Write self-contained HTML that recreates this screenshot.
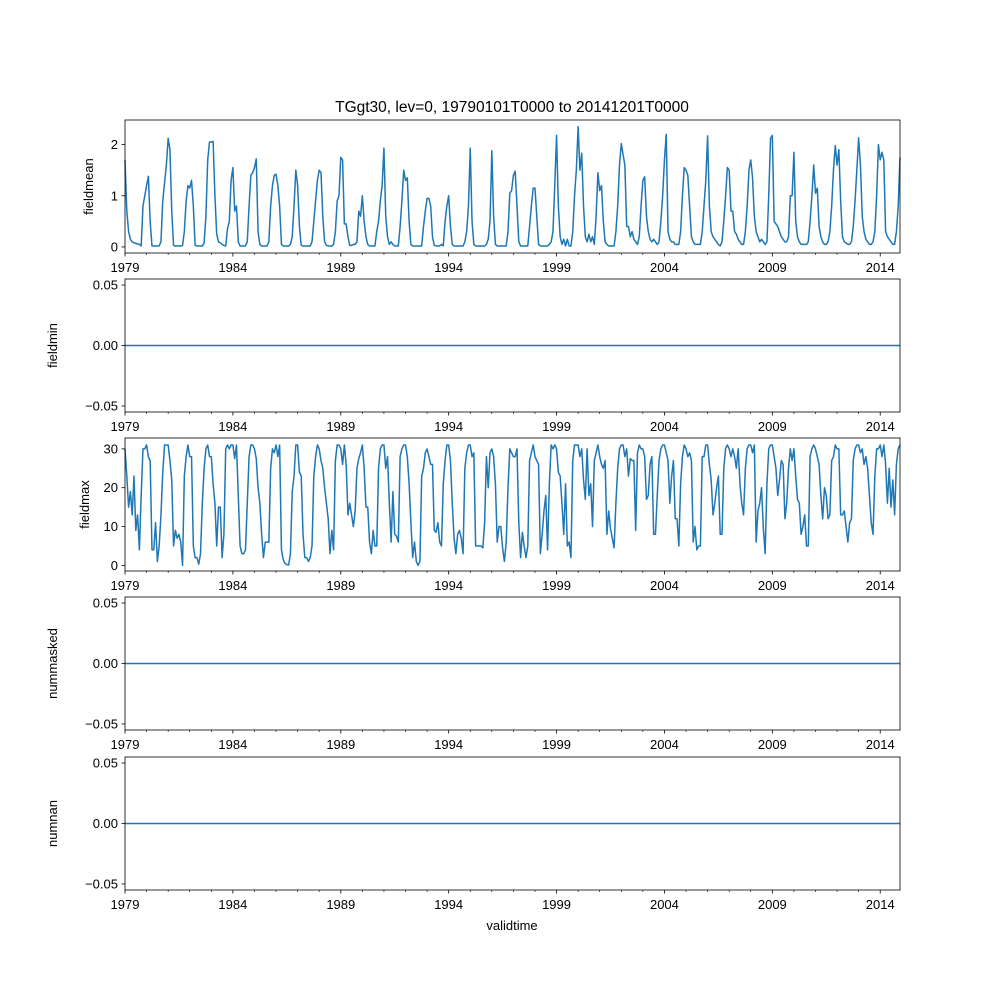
<!DOCTYPE html>
<html><head><meta charset="utf-8"><style>
body{margin:0;background:#fff;}
svg text{font-family:"Liberation Sans","DejaVu Sans",sans-serif;font-size:13px;fill:#000;}
</style></head><body>
<svg id="chart" width="1000" height="1000" xmlns="http://www.w3.org/2000/svg">
<rect width="1000" height="1000" fill="#fff"/>
<text x="512" y="112" text-anchor="middle" style="font-size:15.5px">TGgt30, lev=0, 19790101T0000 to 20141201T0000</text>
<text x="512" y="930" text-anchor="middle">validtime</text>
</svg>
<script>
const yearTicks=[1979,1984,1989,1994,1999,2004,2009,2014];
const fieldmean=[
1.7,0.7,0.3,0.15,0.1,0.08,0.07,0.06,0.05,0.02,0.8,1.0,
1.2,1.38,0.5,0.02,0.02,0.02,0.02,0.02,0.1,0.9,1.25,1.6,
2.12,1.9,0.7,0.03,0.02,0.02,0.02,0.02,0.03,0.3,0.9,1.2,
1.15,1.3,0.8,0.03,0.02,0.02,0.02,0.02,0.08,0.6,1.7,2.05,
2.05,2.06,1.0,0.25,0.1,0.08,0.05,0.03,0.02,0.35,0.5,1.3,
1.55,0.7,0.8,0.1,0.02,0.02,0.02,0.02,0.1,0.8,1.4,1.45,
1.55,1.72,0.3,0.05,0.02,0.02,0.02,0.02,0.1,0.8,1.2,1.4,
1.42,1.2,0.8,0.05,0.02,0.02,0.02,0.02,0.05,0.2,0.8,1.5,
1.2,0.4,0.03,0.02,0.02,0.02,0.02,0.02,0.1,0.5,0.9,1.3,
1.5,1.45,0.6,0.1,0.03,0.02,0.02,0.02,0.05,0.3,0.9,1.0,
1.75,1.7,0.45,0.45,0.2,0.03,0.03,0.05,0.05,0.1,0.7,0.6,
1.0,0.5,0.2,0.05,0.02,0.02,0.02,0.02,0.3,0.5,0.9,1.2,
1.93,0.6,0.2,0.05,0.1,0.05,0.02,0.02,0.02,0.4,0.9,1.5,
1.3,1.35,0.5,0.05,0.02,0.02,0.02,0.02,0.02,0.02,0.4,0.7,
0.95,0.95,0.8,0.2,0.03,0.02,0.02,0.02,0.05,0.02,0.5,0.8,
1.0,0.4,0.05,0.02,0.02,0.02,0.02,0.02,0.02,0.1,0.3,0.8,
1.93,0.5,0.05,0.02,0.02,0.02,0.02,0.02,0.02,0.05,0.15,0.5,
1.88,0.6,0.05,0.02,0.02,0.02,0.02,0.02,0.02,0.3,1.05,1.1,
1.4,1.48,0.8,0.1,0.02,0.02,0.02,0.02,0.02,0.4,0.8,1.15,
1.15,0.6,0.05,0.02,0.02,0.02,0.02,0.02,0.05,0.1,0.3,1.2,
2.18,0.8,0.2,0.05,0.15,0.02,0.15,0.02,0.02,0.3,1.0,1.5,
2.35,1.5,1.83,0.8,0.2,0.1,0.25,0.1,0.2,0.05,0.6,1.45,
1.1,1.2,0.5,0.1,0.05,0.02,0.02,0.02,0.02,0.3,0.8,1.6,
2.02,1.8,1.6,0.4,0.4,0.2,0.3,0.15,0.1,0.05,0.2,0.8,
1.3,1.37,0.6,0.3,0.15,0.1,0.15,0.1,0.05,0.1,0.5,1.0,
1.7,2.2,0.3,0.15,0.1,0.1,0.05,0.05,0.05,0.3,1.0,1.55,
1.5,1.4,0.8,0.2,0.1,0.05,0.05,0.05,0.05,0.3,0.8,1.3,
2.17,0.8,0.3,0.2,0.15,0.1,0.05,0.02,0.1,0.5,1.0,1.55,
1.5,0.7,0.7,0.3,0.25,0.15,0.1,0.05,0.05,0.3,0.8,1.5,
1.7,1.35,0.6,0.3,0.2,0.1,0.15,0.1,0.05,0.1,1.0,2.12,
2.18,0.5,0.45,0.4,0.3,0.2,0.15,0.1,0.1,0.2,1.0,1.0,
1.85,0.5,0.2,0.1,0.05,0.05,0.05,0.05,0.1,0.5,1.0,1.6,
1.05,1.15,0.4,0.2,0.1,0.05,0.05,0.1,0.3,0.8,1.5,1.98,
1.6,1.9,0.9,0.2,0.1,0.08,0.05,0.05,0.1,0.4,0.9,1.5,
2.13,1.6,0.6,0.3,0.15,0.1,0.05,0.05,0.1,0.3,1.0,2.0,
1.7,1.85,1.7,0.3,0.2,0.15,0.1,0.05,0.05,0.3,0.8,1.75];
const fieldmax=[
30,23,15,19,13,23,9,13,4,18,30,30,
31,28,27,4,4,11,1,5,13,24,31,31,
31,27,22,5,9,7,8,6,0,23,28,31,
28,28,5,2,2,0.3,3,16,25,30,31,28,
28,21,16,5,15,15,2,8,30,31,30,31,
31,27.5,31,18,5,3,3,4,16,28,31,31,
30,27.5,20,16,8,2,6,6,6,25,30,29,
31,28,31,4,1.5,0.5,0.2,0.1,3,19,23,31,
31,24,23,8,2,2,1,2,5,23,28,31,
30,27,25,20,16,12,3,9,4,27,31,31,
30,26,31,26,13,16,13,10,14,25,27.5,29,
31,25,15,15,6,3,9,5,5,25,30,31,
31,25,28,16,6,19,8,7.5,6,28,30,31,
31,28,21,11,2,6,1,0,1,23,25,29,
30,28,26,26,9,8.5,11,6,5,21,27,31,
31,27,16,7,3,8,9,7,3,25,29,31,
31,28,29,5,5,5,5,4.5,11,28,20,29,
30,28,21,6,10,10,4.5,1,6,20,30,29,
28,28,30,11,2,8.5,5,2,5,27,29,31,
28,27,26,3,8,14,18,4,21,31,30,31,
30,24,23,16,8,21,5,6,2,27,31,31,
31,28,30,22,17,30,18,21,10,27,29,31,
28,26,25,27,8,14,9.5,7,4.5,16,25,30,
31,31,28,30,23,27.5,27,27,9,29,31,30,
30,28,17,18,26,28,8,8,18,27,30,31,
31,29,27,16,23,27,12,12,5,21,28,31,
30,28,29,27,6,10,4,5,5,28,28,31,
31,26,22,13,16,20,23,8,8,25,30,31,
30,28,30,28,25,30,21,16,13,25,30,31,
31,29,31,6,14,16,20,9.5,3,21,30,31,
31,28,25,18,22,27,26,12,16,25,30,27,
30,23,17,16,8,10,13,5,5,28,30,31,
30,28,26,18,12,20,18,12,13,27,28,31,
30,30,13,13,14,10,6,11,12,27,30,31,
31,29,30,26,28,25,18,11,8,23,30,30,
31,28,31,26,16,25,15,22,13,26,30,31];
const zeroSeries=new Array(432).fill(0);

const NS="http://www.w3.org/2000/svg";
const svg=document.getElementById('chart');
const L=125,R=900,NM=431;
function xScale(m){return L+(R-L)*m/NM;}
function mk(tag,attrs,parent){const e=document.createElementNS(NS,tag);for(const k in attrs)e.setAttribute(k,attrs[k]);(parent||svg).appendChild(e);return e;}

const panels=[
 {name:'fieldmean',top:120,bot:253,ymin:-0.118,ymax:2.48,ticks:[0,1,2],labels:['0','1','2'],data:fieldmean},
 {name:'fieldmin',top:279,bot:412,ymin:-0.055,ymax:0.055,ticks:[-0.05,0,0.05],labels:['\u22120.05','0.00','0.05'],data:zeroSeries},
 {name:'fieldmax',top:438,bot:571,ymin:-1.45,ymax:32.8,ticks:[0,10,20,30],labels:['0','10','20','30'],data:fieldmax},
 {name:'nummasked',top:597,bot:730,ymin:-0.055,ymax:0.055,ticks:[-0.05,0,0.05],labels:['\u22120.05','0.00','0.05'],data:zeroSeries},
 {name:'numnan',top:757,bot:890,ymin:-0.055,ymax:0.055,ticks:[-0.05,0,0.05],labels:['\u22120.05','0.00','0.05'],data:zeroSeries}
];

panels.forEach(p=>{
  const g=mk('g',{});
  
  
  const yS=v=>p.bot-(v-p.ymin)/(p.ymax-p.ymin)*(p.bot-p.top);
  // line
  let d='';
  p.data.forEach((v,i)=>{d+=(i?'L':'M')+xScale(i).toFixed(2)+','+yS(v).toFixed(2);});
  const path=mk('path',{d:d,fill:'none',stroke:'#1f77b4','stroke-width':1.5,'stroke-linejoin':'round'},g);
  
  
  // frame
  const fr=mk('rect',{x:L,y:p.top,width:R-L,height:p.bot-p.top,fill:'none',stroke:'#000','stroke-width':0.8},g);
  
  
  // y ticks
  p.ticks.forEach((t,i)=>{
    const y=yS(t);
    mk('line',{x1:L-3.5,x2:L,y1:y,y2:y,stroke:'#000','stroke-width':0.8},g);
    const tx=mk('text',{x:L-7,y:y+4.5,'text-anchor':'end'},g);
    tx.textContent=p.labels[i];
    
    
  });
  // x ticks: minor each year, major every 5
  for(let yr=1979;yr<=2014;yr++){
    const x=xScale((yr-1979)*12);
    const major=yearTicks.indexOf(yr)>=0;
    mk('line',{x1:x,x2:x,y1:p.bot,y2:p.bot+(major?3.5:2),stroke:'#000','stroke-width':major?0.8:0.6},g);
    if(major){
      const tx=mk('text',{x:x,y:p.bot+19,'text-anchor':'middle'},g);
      tx.textContent=String(yr);
      
      
    }
  }
  // y label
  const lab=p.ticks.length===3&&p.ymax<1?57:(p.name==='fieldmax'?89:93);
  const cy=(p.top+p.bot)/2;
  const yl=mk('text',{x:lab,y:cy,'text-anchor':'middle',transform:'rotate(-90 '+lab+' '+cy+')'},g);
  yl.textContent=p.name;
  
  
});
</script>
</body></html>
